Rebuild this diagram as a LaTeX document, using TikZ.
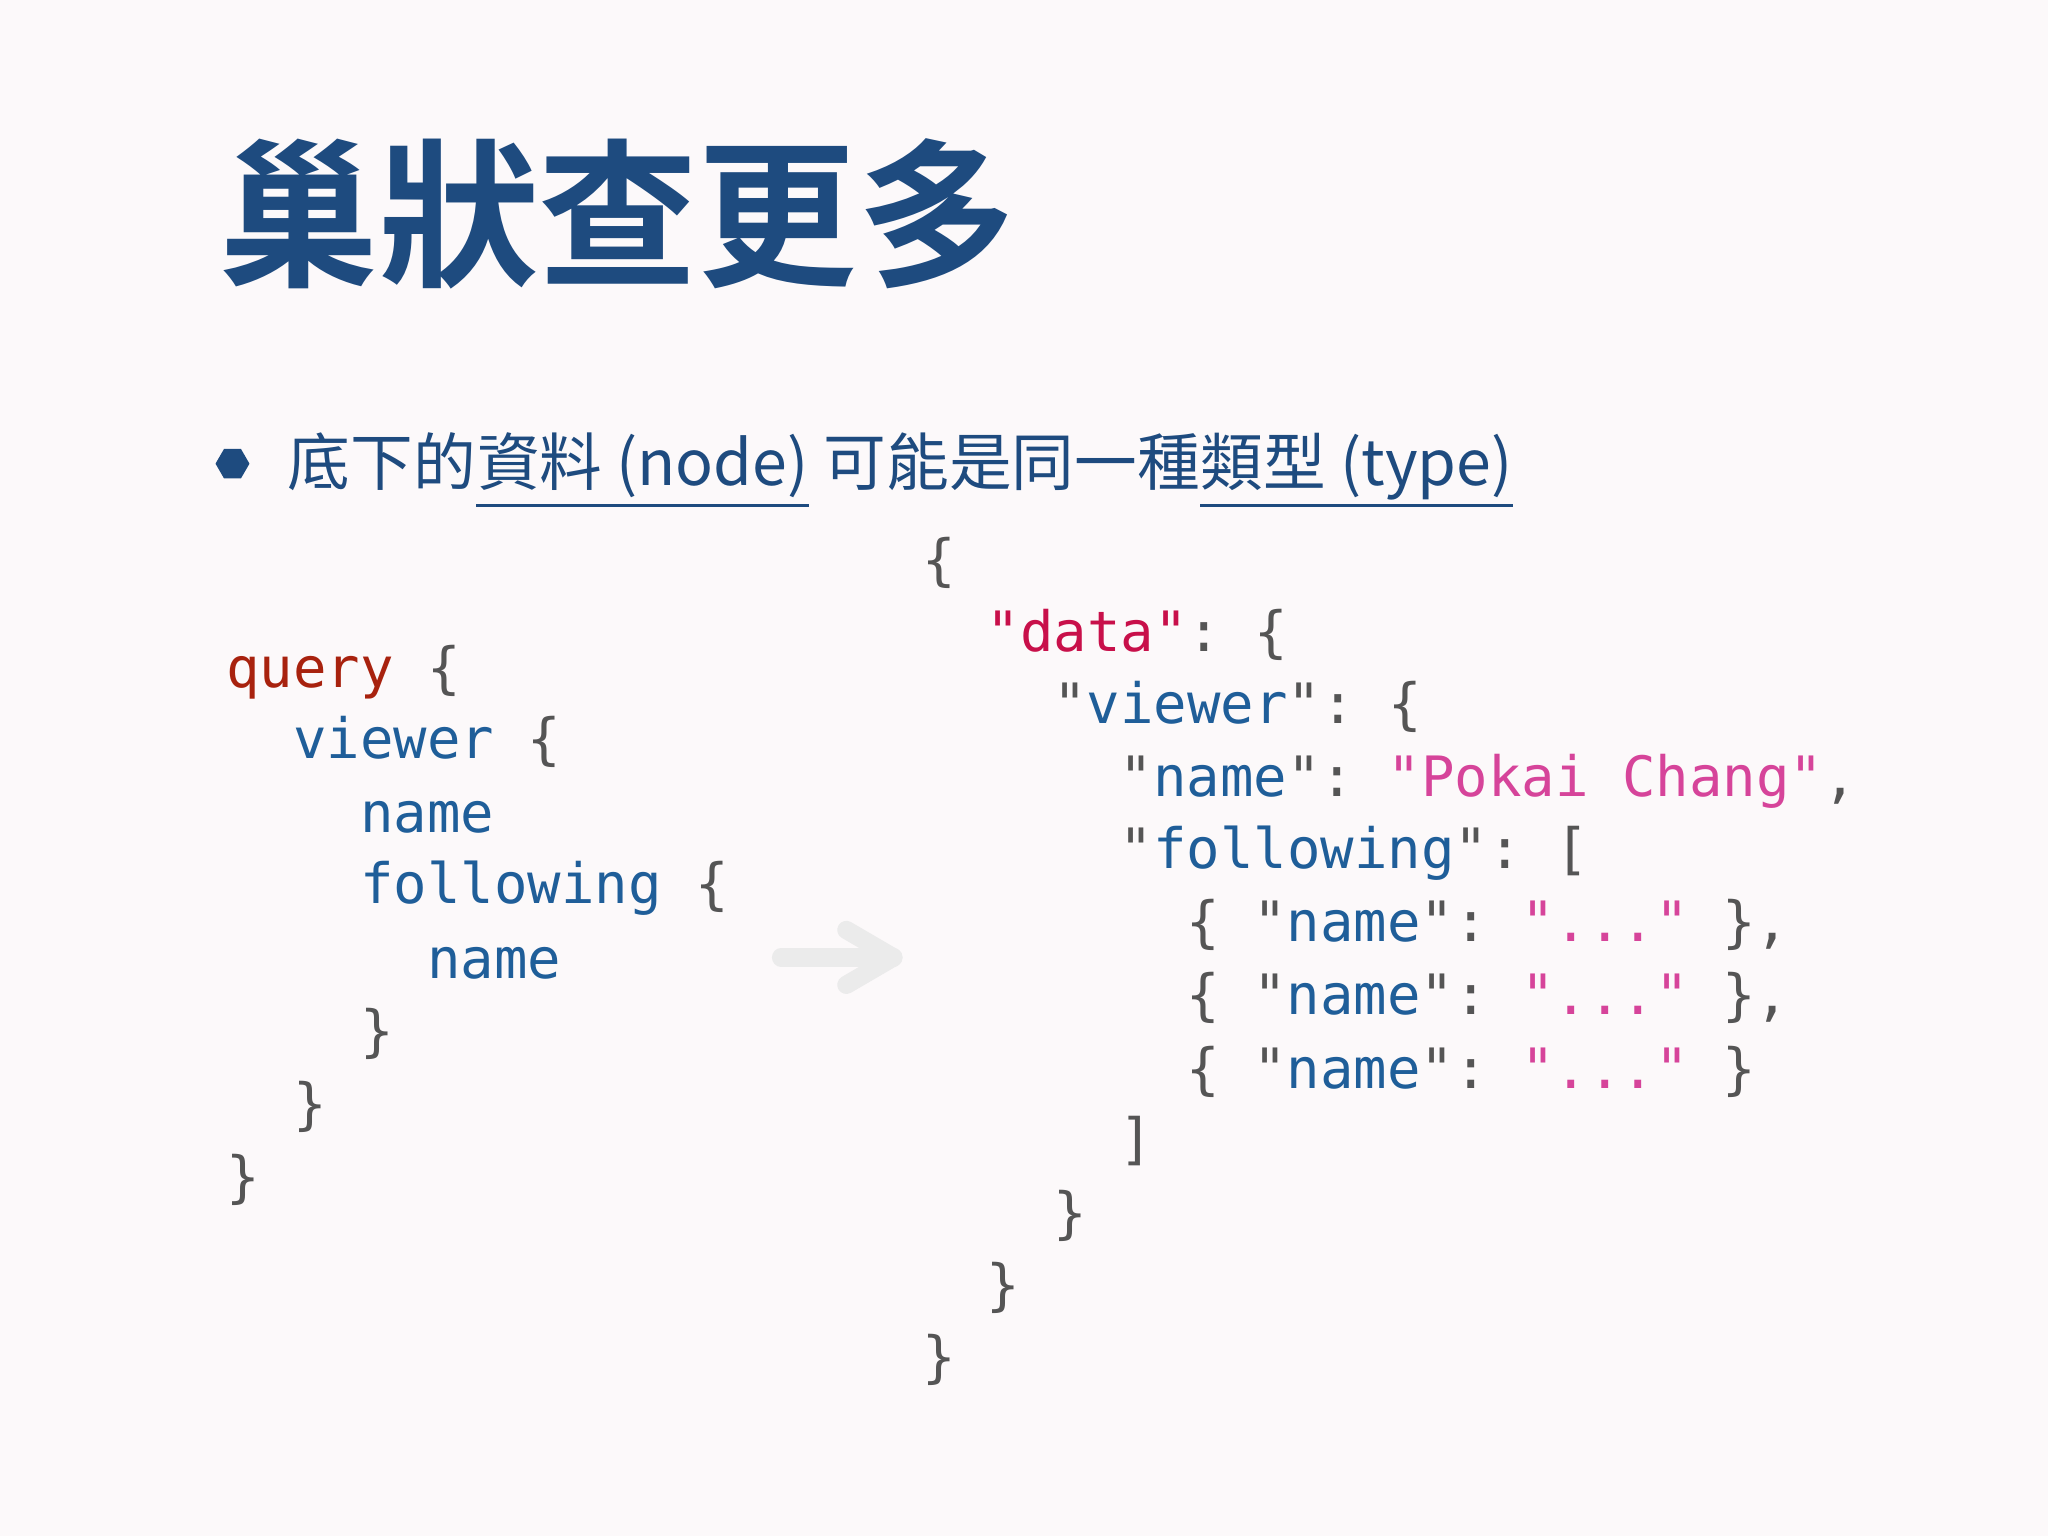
\documentclass[tikz,border=0pt]{standalone}
\usepackage{fontspec}
\newfontfamily\cjk{Noto Sans CJK TC}
\newfontfamily\cjkb{Noto Sans CJK TC Bold}
\setmonofont{DejaVu Sans Mono}
\usetikzlibrary{shapes.geometric}
\definecolor{bg}{HTML}{FCF9FA}
\definecolor{ttl}{HTML}{1E4B7F}
\definecolor{kw}{HTML}{A8220E}
\definecolor{fld}{HTML}{1F5E99}
\definecolor{brc}{HTML}{555555}
\definecolor{dat}{HTML}{C8104A}
\definecolor{str}{HTML}{D6449A}
\newcommand{\qg}{\textcolor{brc}{"}}
\newcommand{\fk}[1]{\qg\textcolor{fld}{#1}\qg}
\begin{document}
\begin{tikzpicture}[x=0.5pt,y=-0.5pt,
  code/.style={anchor=base west,inner sep=0,font=\ttfamily\fontsize{21.3pt}{24pt}\selectfont,text=brc},
  btxt/.style={anchor=base west,inner sep=0,font=\cjk\fontsize{24pt}{28pt}\selectfont,text=ttl}]
\fill[bg] (0,0) rectangle (1568,1176);
\useasboundingbox (0,0) rectangle (1568,1176);
\node[anchor=base west,inner sep=0,font=\cjkb\fontsize{61pt}{66pt}\selectfont,text=ttl] (title) at (168,210) {巢狀查更多};
\node[regular polygon,regular polygon sides=6,fill=ttl,minimum size=13pt,inner sep=0] (bul) at (178,355) {};
\node[btxt] (b1) at (220,372) {底下的};
\node[btxt] (b2) at (b1.base east) {資料 (node)};
\node[btxt] (b3) at (b2.base east) {\ 可能是同一種};
\node[btxt] (b4) at (b3.base east) {類型 (type)};
\draw[ttl,line width=1pt] ([yshift=-7.5pt]b2.base west) -- ([yshift=-7.5pt]b2.base east);
\draw[ttl,line width=1pt] ([yshift=-7.5pt]b4.base west) -- ([yshift=-7.5pt]b4.base east);
% left query
\node[code] (q1) at (173,526) {\textcolor{kw}{query} \{};
\node[code] (q2) at (224.2,581) {\textcolor{fld}{viewer} \{};
\node[code] (q3) at (275.4,637) {\textcolor{fld}{name}};
\node[code] (q4) at (275.4,692) {\textcolor{fld}{following} \{};
\node[code] (q5) at (326.6,749) {\textcolor{fld}{name}};
\node[code] (q6) at (275.4,804) {\}};
\node[code] (q7) at (224.2,860) {\}};
\node[code] (q8) at (173,916) {\}};
% arrow
\coordinate (a1) at (598,733);
\coordinate (a2) at (684,733);
\draw[line width=7pt,color=black!8,line cap=round] (a1) -- (a2);
\draw[line width=7pt,color=black!8,line cap=round,line join=round] (648,712) -- (a2) -- (648,754);
% right json
\node[code] (r1) at (706,444) {\{};
\node[code] (r2) at (755,499) {\textcolor{dat}{"data"}: \{};
\node[code] (r3) at (806,554) {\fk{viewer}: \{};
\node[code] (r4) at (857,610) {\fk{name}: \textcolor{str}{"Pokai Chang"},};
\node[code] (r5) at (857,665) {\fk{following}: [};
\node[code] (r6) at (908,721) {\{ \fk{name}: \textcolor{str}{"..."} \},};
\node[code] (r7) at (908,777) {\{ \fk{name}: \textcolor{str}{"..."} \},};
\node[code] (r8) at (908,833) {\{ \fk{name}: \textcolor{str}{"..."} \}};
\node[code] (r9) at (857,887) {]};
\node[code] (r10) at (806,944) {\}};
\node[code] (r11) at (755,999) {\}};
\node[code] (r12) at (706,1054) {\}};
\end{tikzpicture}
\end{document}
